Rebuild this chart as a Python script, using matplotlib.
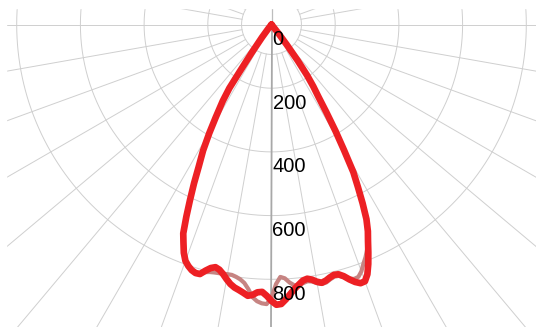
import numpy as np
import matplotlib.pyplot as plt
from matplotlib.patches import Rectangle

plt.rcParams['font.family'] = ['Liberation Sans', 'DejaVu Sans']

# angle in degrees from nadir, positive = left side of the diagram
angles = [40, 38, 36.5, 35, 34, 33.5, 32.5, 31, 29.8, 28.5, 27.1, 26, 24.9, 23.9,
          22.9, 22, 21, 20, 19, 18, 17, 16, 15, 14, 13, 12, 11, 10, 9, 8, 7, 6,
          5, 4, 3, 2, 1, 0, -1, -2, -3, -4, -5, -6, -7, -8, -9, -10, -11, -12,
          -13, -14, -15, -16, -17, -18, -19, -20, -21, -22, -23, -24, -25, -26,
          -27, -28, -29, -30, -31, -32, -33, -34, -35, -36, -37, -38, -40]

# intensity (cd) - bright red curve
red_cd = [0, 15, 50, 110, 180, 240, 285, 340, 393, 450, 502, 555, 608, 660,
          712, 738, 768, 790, 802, 811, 816, 815, 800, 788, 782, 787, 798, 812,
          825, 834, 840, 847, 855, 851, 842, 840, 852, 868, 880, 878, 864, 848,
          833, 821, 810, 806, 811, 820, 826, 822, 815, 810, 812, 822, 837, 850,
          859, 858, 840, 811, 778, 745, 716, 680, 630, 578, 530, 455, 390, 325,
          270, 235, 195, 140, 80, 35, 0]

# intensity (cd) - muted second curve
muted_cd = [0, 15, 50, 110, 180, 240, 285, 340, 393, 450, 502, 555, 608, 660,
            712, 738, 768, 790, 802, 811, 815, 813, 805, 801, 799, 798, 797, 796,
            796, 800, 806, 816, 834, 858, 870, 876, 878, 858, 815, 793, 798, 812,
            822, 823, 818, 814, 817, 825, 830, 828, 821, 816, 817, 824, 834, 840,
            838, 825, 805, 788, 768, 740, 716, 680, 630, 578, 530, 455, 390, 325,
            270, 235, 195, 140, 80, 35, 0]

rings = [200, 400, 600, 800]
ring_labels = ['0', '200', '400', '600', '800']
hole = 94
r_max = 1300

W, H = 536, 327
px_per_cd = 0.3185
cx, cy = 271.5, 24.5
rad_px = r_max * px_per_cd

fig = plt.figure(figsize=(W / 100, H / 100), dpi=100)
ax = fig.add_axes([(cx - rad_px) / W, (H - cy - rad_px) / H,
                   2 * rad_px / W, 2 * rad_px / H], projection='polar')
ax.set_theta_zero_location('S')
ax.set_theta_direction(-1)
ax.set_ylim(0, r_max)
ax.grid(False)
ax.set_xticks([])
ax.set_yticks([])
ax.spines['polar'].set_visible(False)

grid_c = '#cfcfcf'
t = np.linspace(0, 2 * np.pi, 721)
for r in [hole] + rings:
    ax.plot(t, np.full_like(t, r), color=grid_c, lw=0.7, zorder=1)
for a in range(0, 360, 10):
    th = np.deg2rad(a)
    if a in (90, 270):
        ax.plot([th, th], [0, r_max], color=grid_c, lw=0.7, zorder=1)
    elif a not in (0, 180):
        ax.plot([th, th], [hole, r_max], color=grid_c, lw=0.7, zorder=1)
ax.plot([0, 0], [0, r_max], color='#a8a8a8', lw=1.3, zorder=1)
ax.plot([np.pi, np.pi], [0, r_max], color='#bdbdbd', lw=0.9, zorder=1)

th = np.deg2rad(angles)
ax.plot(th, muted_cd, color='#c68482', lw=3.0, zorder=3,
        solid_joinstyle='round', solid_capstyle='round')
ax.plot(th, red_cd, color='#ed2024', lw=4.8, zorder=4,
        solid_joinstyle='round', solid_capstyle='round')

for r, lab in zip([0] + rings, ring_labels):
    ax.annotate(lab, xy=(0, r), xytext=(1, -15), textcoords='offset pixels',
                ha='left', va='center', fontsize=14.5, color='black', zorder=5)

# white margins at top and left edge
fig.add_artist(Rectangle((0, 1 - 8 / H), 1, 8 / H, transform=fig.transFigure,
                         color='white', zorder=10))
fig.add_artist(Rectangle((0, 0), 6 / W, 1, transform=fig.transFigure,
                         color='white', zorder=10))

fig.savefig('out.png', dpi=100)
